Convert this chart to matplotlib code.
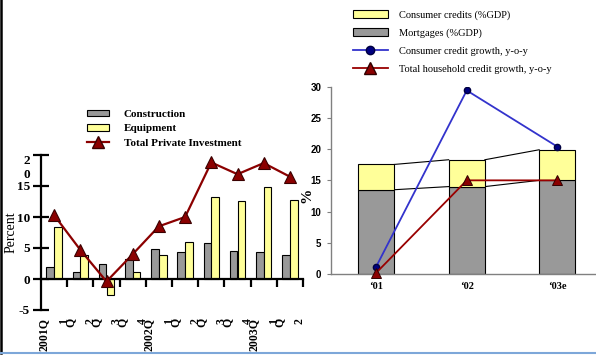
import numpy as np
import matplotlib.pyplot as plt
from matplotlib.lines import Line2D
from matplotlib.patches import Patch

# left panel: private investment growth
quarters = ["2001Q\n1", "Q\n2", "Q\n3", "Q\n4", "2002Q\n1",
            "Q\n2", "Q\n3", "Q\n4", "2003Q\n1", "Q\n2"]
construction = [1.9, 1.2, 2.4, 3.3, 4.8, 4.4, 5.8, 4.5, 4.3, 3.8]
equipment = [8.4, 3.9, -2.6, 1.1, 3.8, 6.0, 13.2, 12.6, 14.9, 12.7]
total_invest = [10.3, 4.7, -0.4, 4.0, 8.5, 10.0, 18.8, 16.9, 18.7, 16.5]
left_yticks = [-5, 0, 5, 10, 15, 20]
left_yticklabels = ["-5", "0", "5", "10", "15", "2\n0"]

# right panel: household credit
years = ["\u201801", "\u201802", "\u201803e"]
mortgages = [13.5, 14.0, 15.0]
consumer = [4.05, 4.3, 4.9]
consumer_growth = [1.2, 29.4, 20.4]
household_growth = [0.2, 15.0, 15.0]

serif = "Liberation Serif"
sans = "Liberation Sans"
GREY = "#999999"
YELLOW = "#ffff99"
DARKRED = "#8b0000"

fig = plt.figure(figsize=(5.96, 3.55), dpi=100)

# ---------------- left chart ----------------
ax = fig.add_axes([41 / 596, 1 - 310 / 355, 262 / 596, 155 / 355])
x = np.arange(len(quarters))
w = 0.29
ax.bar(x - 0.15, construction, w, color=GREY, edgecolor="black", lw=0.8, zorder=2)
ax.bar(x + 0.15, equipment, w, color=YELLOW, edgecolor="black", lw=0.8, zorder=2)
ax.plot(x, total_invest, color=DARKRED, lw=1.6, marker="^", ms=9,
        mfc="#8b0000", mec="#3a0000", mew=0.8, zorder=3, clip_on=False)

ax.set_xlim(-0.5, len(quarters) - 0.5)
ax.set_ylim(-5, 20)
for s in ["top", "right"]:
    ax.spines[s].set_visible(False)
ax.spines["left"].set_linewidth(1.6)
ax.spines["bottom"].set_linewidth(1.6)
ax.spines["bottom"].set_position(("data", 0))
ax.set_xticks(np.arange(len(quarters)) + 0.5)
ax.set_xticklabels([])
ax.tick_params(axis="x", direction="out", length=6, width=1.6)
ax.set_yticks(left_yticks)
ax.set_yticklabels(left_yticklabels, fontfamily=serif, fontweight="bold",
                   fontsize=9.5, linespacing=1.2)
ax.tick_params(axis="y", direction="inout", length=12, width=1.6, pad=2)
# wrapped "20" label sits lower than its tick in the source
ax.get_yticklabels()[-1].set_va("top")
ax.set_ylabel("Percent", fontfamily=serif, fontsize=10)
ax.yaxis.set_label_coords(-0.09, 0.5)

for i, lab in enumerate(quarters):
    ax.text(i, -0.05, lab, transform=ax.get_xaxis_transform(), rotation=90,
            ha="center", va="top", multialignment="right", linespacing=1.9,
            fontfamily=serif, fontweight="bold", fontsize=8.5)

left_handles = [
    Patch(facecolor=GREY, edgecolor="black", lw=0.8),
    Patch(facecolor=YELLOW, edgecolor="black", lw=0.8),
    Line2D([], [], color=DARKRED, lw=1.6, marker="^", ms=9, mfc="#8b0000",
           mec="#3a0000"),
]
fig.legend(left_handles, ["Construction", "Equipment", "Total Private Investment"],
           loc="upper left", bbox_to_anchor=(81 / 596, 1 - 104 / 355),
           frameon=False, prop={"family": serif, "weight": "bold", "size": 8},
           handlelength=2.0, handleheight=0.5, labelspacing=0.5, handletextpad=1.35,
           borderpad=0)

# ---------------- right chart ----------------
ax2 = fig.add_axes([331 / 596, 1 - 274 / 355, 265 / 596, 187.3 / 355])
xr = np.arange(len(years))
bw = 0.4
ax2.bar(xr, mortgages, bw, color=GREY, edgecolor="black", lw=0.8, zorder=2)
ax2.bar(xr, consumer, bw, bottom=mortgages, color=YELLOW, edgecolor="black",
        lw=0.8, zorder=2)
tops = np.array(mortgages) + np.array(consumer)
for i in range(len(years) - 1):
    ax2.plot([xr[i] + bw / 2, xr[i + 1] - bw / 2], [tops[i], tops[i + 1]],
             color="black", lw=0.8, zorder=1)
    ax2.plot([xr[i] + bw / 2, xr[i + 1] - bw / 2], [mortgages[i], mortgages[i + 1]],
             color="black", lw=0.8, zorder=1)
ax2.plot(xr, consumer_growth, color="#3333cc", lw=1.3, marker="o", ms=4.5,
         mfc="#000080", mec="#000040", zorder=3)
ax2.plot(xr, household_growth, color="#990000", lw=1.3, marker="^", ms=7,
         mfc="#8b0000", mec="#300000", mew=0.7, zorder=4, clip_on=False)

ax2.set_xlim(-0.5, 2.428)
ax2.set_ylim(0, 30)
for s in ["top", "right"]:
    ax2.spines[s].set_visible(False)
for s in ["left", "bottom"]:
    ax2.spines[s].set_color("#808080")
    ax2.spines[s].set_linewidth(1.0)
ax2.set_xticks(xr)
ax2.set_xticklabels(years, fontfamily=serif, fontweight="bold", fontsize=7.5)
ax2.tick_params(axis="x", length=0, pad=6)
ax2.set_yticks(np.arange(0, 31, 5))
ax2.set_yticklabels([str(v) for v in range(0, 31, 5)], fontfamily=sans,
                    fontweight="bold", fontsize=7)
ax2.tick_params(axis="y", length=3, width=0.8, color="#808080", pad=4)
ax2.set_ylabel("%", fontfamily=serif, fontweight="bold", fontsize=11)
ax2.yaxis.set_label_coords(-0.068, 0.42)

right_handles = [
    Patch(facecolor=YELLOW, edgecolor="black", lw=0.8),
    Patch(facecolor=GREY, edgecolor="black", lw=0.8),
    Line2D([], [], color="#3333cc", lw=1.3, marker="o", ms=6, mfc="#000080",
           mec="#000040"),
    Line2D([], [], color="#990000", lw=1.3, marker="^", ms=9, mfc="#8b0000",
           mec="#300000"),
]
fig.legend(right_handles, ["Consumer credits (%GDP)", "Mortgages (%GDP)",
                           "Consumer credit growth, y-o-y",
                           "Total household credit growth, y-o-y"],
           loc="upper left", bbox_to_anchor=(348 / 596, 1 - 5 / 355),
           frameon=False, prop={"family": serif, "size": 7.5},
           handlelength=3.3, handleheight=0.8, labelspacing=0.78,
           handletextpad=1.1, borderpad=0)

# page edges from the source screenshot
fig.add_artist(Line2D([1 / 596, 1 / 596], [1 - 353 / 355, 1], color="black",
                      lw=1.8, transform=fig.transFigure))
fig.add_artist(Line2D([0, 1], [1 - 353 / 355, 1 - 353 / 355], color="#7da7d9",
                      lw=1.5, transform=fig.transFigure))

fig.savefig("out.png", dpi=100)
